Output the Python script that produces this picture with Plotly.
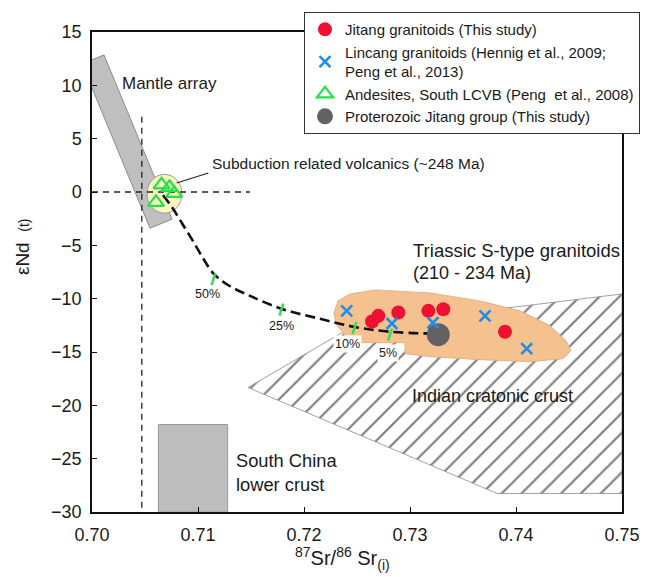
import plotly.graph_objects as go

# ---------------- data ----------------
# Jitang granitoids (This study)
jitang_sr = [0.72701, 0.72642, 0.72890, 0.73173, 0.73314, 0.73896]
jitang_nd = [-11.61, -12.14, -11.30, -11.14, -10.99, -13.10]

# Lincang granitoids
lincang_sr = [0.72403, 0.72830, 0.73217, 0.73708, 0.74101]
lincang_nd = [-11.14, -12.33, -12.26, -11.61, -14.69]

# Andesites, South LCVB
andesite_sr = [0.70656, 0.70731, 0.70774, 0.70604]
andesite_nd = [0.67, 0.43, -0.13, -0.97]

# Proterozoic Jitang group
proterozoic_sr = [0.73267]
proterozoic_nd = [-13.38]

# mixing curve
mix_sr = [0.70670, 0.70755, 0.70849, 0.70953, 0.71047, 0.71142, 0.71283,
          0.71491, 0.71792, 0.72151, 0.72491, 0.72811, 0.73255]
mix_nd = [-0.31, -1.43, -2.93, -4.61, -6.20, -7.60, -8.72,
          -9.74, -10.96, -11.89, -12.68, -13.10, -13.29]

# mixing proportions marks
mix_labels = ["50%", "25%", "10%", "5%"]
mark_sr = [0.71146, 0.71786, 0.72476, 0.72811]
mark_nd = [-8.16, -11.03, -12.73, -13.37]

# fields
mantle_sr = [0.70113, 0.70755, 0.70547, 0.69906]
mantle_nd = [12.85, -2.55, -3.39, 12.01]

triassic_sr = [0.72283, 0.72321, 0.72434, 0.72670, 0.73189, 0.73660, 0.74038,
               0.74321, 0.74472, 0.74519, 0.74443, 0.74132, 0.73660, 0.73189,
               0.72953, 0.72953, 0.72509, 0.72387, 0.72302, 0.72283]
triassic_nd = [-11.33, -10.21, -9.56, -9.18, -9.46, -10.21, -11.14,
               -12.54, -13.94, -14.88, -15.63, -15.91, -15.72, -15.44,
               -15.16, -14.13, -14.13, -13.48, -12.36, -11.33]

indian_sr = [0.71472, 0.72453, 0.75, 0.75, 0.73821, 0.71472]
indian_nd = [-18.33, -12.64, -9.56, -28.26, -28.26, -18.33]

subduction_sr = [0.70519, 0.70849]
subduction_nd = [-1.99, 1.65]

south_china_sr = [0.70626, 0.71280]
south_china_nd = [-30.0, -21.8]

ref_sr = 0.7047
ref_nd = 0.0

x_ticks = [0.70, 0.71, 0.72, 0.73, 0.74, 0.75]
x_ticktext = ["0.70", "0.71", "0.72", "0.73", "0.74", "0.75"]
y_ticks = [15, 10, 5, 0, -5, -10, -15, -20, -25, -30]

FONT = "Arial, 'Liberation Sans', sans-serif"
TXT = "#1a1a1a"

fig = go.Figure()

# Indian cratonic crust (hatched)
fig.add_trace(go.Scatter(
    x=indian_sr, y=indian_nd, mode="lines", fill="toself",
    fillcolor="white",
    fillpattern=dict(shape="/", size=14, solidity=0.16, fgcolor="#000000", bgcolor="white"),
    line=dict(color="#8a8a8a", width=0.8), showlegend=False, hoverinfo="skip"))

# Triassic S-type granitoids field
fig.add_trace(go.Scatter(
    x=triassic_sr, y=triassic_nd, mode="lines", fill="toself",
    fillcolor="#f5c18f", line=dict(color="#d9aa7c", width=0.8),
    showlegend=False, hoverinfo="skip"))

# mixing curve
fig.add_trace(go.Scatter(
    x=mix_sr, y=mix_nd, mode="lines", line=dict(color="#111111", width=2.6, dash="10px,5px", shape="spline"),
    showlegend=False, hoverinfo="skip"))

# mixing marks
fig.add_trace(go.Scatter(
    x=mark_sr, y=mark_nd, mode="markers",
    marker=dict(symbol="line-ns", size=9, angle=18, line=dict(color="#33dd55", width=2.5)),
    showlegend=False, hoverinfo="skip"))

# Proterozoic Jitang group
fig.add_trace(go.Scatter(
    x=proterozoic_sr, y=proterozoic_nd, mode="markers", name="Proterozoic Jitang group (This study)",
    marker=dict(symbol="circle", size=23, color="#626262"), legendrank=4))

# Andesites
fig.add_trace(go.Scatter(
    x=andesite_sr, y=andesite_nd, mode="markers", name="Andesites, South LCVB (Peng  et al., 2008)",
    marker=dict(symbol="triangle-up-open", size=14, color="#22e24a", line=dict(width=2.2, color="#22e24a")),
    legendrank=3))

# Jitang granitoids
fig.add_trace(go.Scatter(
    x=jitang_sr, y=jitang_nd, mode="markers", name="Jitang granitoids (This study)",
    marker=dict(symbol="circle", size=14, color="#ee1131"), legendrank=1))

# Lincang granitoids
fig.add_trace(go.Scatter(
    x=lincang_sr, y=lincang_nd, mode="markers",
    name="Lincang granitoids (Hennig et al., 2009;<br>Peng et al., 2013)",
    marker=dict(symbol="x-thin", size=11, line=dict(width=2.6, color="#1e8fe8")), legendrank=2))

shapes = []
# Mantle array
path = "M " + " L ".join(f"{x},{y}" for x, y in zip(mantle_sr, mantle_nd)) + " Z"
shapes.append(dict(type="path", path=path, xref="x", yref="y", layer="below",
                   fillcolor="#bfbfbf", line=dict(color="#8c8c8c", width=1)))
# South China lower crust
shapes.append(dict(type="rect", xref="x", yref="y", layer="below",
                   x0=south_china_sr[0], x1=south_china_sr[1], y0=south_china_nd[0], y1=south_china_nd[1],
                   fillcolor="#bdbdbd", line=dict(color="#9a9a9a", width=1)))
# Subduction ellipse
shapes.append(dict(type="circle", xref="x", yref="y", layer="below",
                   x0=subduction_sr[0], x1=subduction_sr[1], y0=subduction_nd[0], y1=subduction_nd[1],
                   fillcolor="#fbf5c0", line=dict(color="#9a9a9a", width=1)))
# reference dashed lines
shapes.append(dict(type="line", xref="x", yref="y", layer="below",
                   x0=ref_sr, x1=ref_sr, y0=7.06, y1=-30,
                   line=dict(color="#222222", width=1.3, dash="6px,5px")))
shapes.append(dict(type="line", xref="x", yref="y", layer="below",
                   x0=0.70, x1=0.7149, y0=ref_nd, y1=ref_nd,
                   line=dict(color="#222222", width=1.3, dash="6px,5px")))
# leader line
shapes.append(dict(type="line", xref="x", yref="y", layer="above",
                   x0=0.70799, y0=0.84, x1=0.71097, y1=1.78,
                   line=dict(color="#222222", width=1.2)))

annotations = []
def label(text, x, y, size=16, xanchor="left", bg=None):
    d = dict(text=text, x=x, y=y, xref="x", yref="y", showarrow=False,
             xanchor=xanchor, yanchor="middle", font=dict(family=FONT, size=size, color=TXT))
    if bg:
        d["bgcolor"] = bg
    annotations.append(d)

label("Mantle array", 0.70264, 10.14, size=17)
label("Subduction related volcanics (~248 Ma)", 0.71113, 2.68, size=15.5)
label("Triassic S-type granitoids", 0.73009, -5.45, size=18.5)
label("(210 - 234 Ma)", 0.73009, -7.55, size=18)
label("Indian cratonic crust", 0.72999, -19.08, size=18)
label("South China", 0.71339, -25.15, size=18.3)
label("lower crust", 0.71339, -27.39, size=18.3)
label_pos = [(0.71085, -9.56), (0.71792, -12.54), (0.72406, -14.22), (0.72792, -15.07)]
for t, (x, y) in zip(mix_labels, label_pos):
    label(t, x, y, size=12.5, xanchor="center", bg="white" if t in ("10%", "5%") else None)

# axis titles
annotations.append(dict(text="εNd  <span style='font-size:14px'>(t)</span>", xref="paper", yref="paper",
                        x=-0.132, y=0.552, showarrow=False, textangle=-90,
                        xanchor="center", yanchor="middle",
                        font=dict(family=FONT, size=19, color=TXT)))
annotations.append(dict(text="<sup>87</sup>Sr/<sup>86</sup> Sr<sub>(i)</sub>", xref="paper", yref="paper",
                        x=0.472, y=-0.097, showarrow=False,
                        xanchor="center", yanchor="middle",
                        font=dict(family=FONT, size=20, color=TXT)))

fig.update_layout(
    width=656, height=577,
    margin=dict(l=92, r=34, t=30, b=65),
    plot_bgcolor="white", paper_bgcolor="white",
    font=dict(family=FONT, color=TXT),
    shapes=shapes, annotations=annotations,
    legend=dict(x=0.4, y=1.0415, xanchor="left", yanchor="top",
                bgcolor="white", bordercolor="#333333", borderwidth=1,
                font=dict(family=FONT, size=15, color=TXT),
                itemwidth=30, tracegroupgap=0),
    xaxis=dict(range=[0.70, 0.75], tickvals=x_ticks, ticktext=x_ticktext,
               ticks="inside", ticklen=5, tickcolor="#111", tickwidth=1.2,
               showline=True, linecolor="#111", linewidth=1.5, mirror=True,
               showgrid=False, zeroline=False, ticklabelstandoff=6,
               tickfont=dict(family=FONT, size=18, color=TXT)),
    yaxis=dict(range=[-30, 15], tickvals=y_ticks,
               ticks="inside", ticklen=5, tickcolor="#111", tickwidth=1.2,
               showline=True, linecolor="#111", linewidth=1.5, mirror=True,
               showgrid=False, zeroline=False, ticklabelstandoff=5,
               tickfont=dict(family=FONT, size=18, color=TXT)),
)

fig.write_html("out.html")
